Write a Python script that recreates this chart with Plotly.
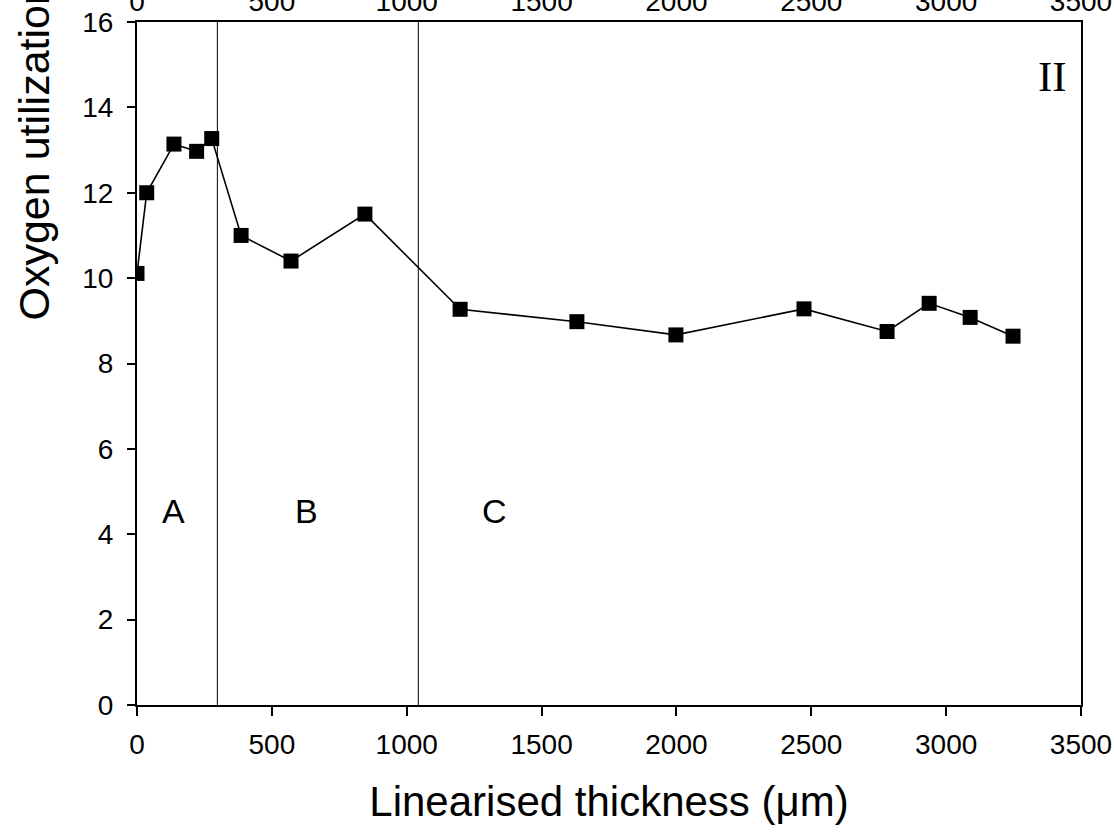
import plotly.graph_objects as go

thickness = [0, 36, 137, 221, 277, 386, 571, 845, 1198, 1631, 1998, 2473, 2781, 2937, 3089, 3248]
oxygen = [10.11, 12.0, 13.14, 12.97, 13.27, 11.0, 10.40, 11.50, 9.27, 8.98, 8.67, 9.28, 8.75, 9.41, 9.08, 8.64]
boundaries = [298, 1043]
zone_labels = ["A", "B", "C"]
zone_x = [137, 630, 1325]
zone_y = 4.55
x_ticks = [0, 500, 1000, 1500, 2000, 2500, 3000, 3500]
y_ticks = [0, 2, 4, 6, 8, 10, 12, 14, 16]

W, H = 1114, 837
L, R, T, B = 137, 33, 22, 132

fig = go.Figure()
fig.add_trace(go.Scatter(
    x=thickness, y=oxygen, mode="lines+markers",
    line=dict(color="black", width=1.6),
    marker=dict(symbol="square", size=15, color="black"),
    showlegend=False, hoverinfo="skip"))
fig.add_trace(go.Scatter(x=[], y=[], xaxis="x2", showlegend=False))

for bx in boundaries:
    fig.add_shape(type="line", x0=bx, x1=bx, y0=0, y1=16, xref="x", yref="y",
                  line=dict(color="black", width=1))

for lab, zx in zip(zone_labels, zone_x):
    fig.add_annotation(x=zx, y=zone_y, text=lab, showarrow=False,
                       font=dict(family="Arial, Liberation Sans", size=34, color="black"))

fig.add_annotation(x=3395, y=14.72, text="II", showarrow=False,
                   font=dict(family="Liberation Serif, Times New Roman", size=43, color="black"))

fig.add_annotation(xref="paper", yref="paper", x=(33 - L) / (W - L - R), y=(H - B - 323) / (H - T - B),
                   xanchor="center", yanchor="bottom", textangle=-90,
                   text="Oxygen utilization", showarrow=False,
                   font=dict(family="Arial, Liberation Sans", size=43, color="black"))

axis_font = dict(family="Arial, Liberation Sans", size=28, color="black")
fig.update_layout(
    width=W, height=H,
    margin=dict(l=L, r=R, t=T, b=B, autoexpand=False),
    plot_bgcolor="white", paper_bgcolor="white",
    xaxis=dict(range=[0, 3500], tickvals=x_ticks, ticks="outside", ticklen=9, tickwidth=1.5,
               tickcolor="black", showline=True, linecolor="black", linewidth=2, mirror=True,
               showgrid=False, zeroline=False, tickfont=axis_font, automargin=False,
               ticklabelstandoff=4,
               title=dict(text="Linearised thickness (μm)", standoff=28,
                          font=dict(family="Arial, Liberation Sans", size=42, color="black"))),
    xaxis2=dict(range=[0, 3500], tickvals=x_ticks, overlaying="x", side="top", ticks="",
                showline=False, showgrid=False, zeroline=False, tickfont=axis_font,
                automargin=False, ticklabelstandoff=4),
    yaxis=dict(range=[0, 16], tickvals=y_ticks, ticks="outside", ticklen=8, tickwidth=1.5,
               tickcolor="black", showline=True, linecolor="black", linewidth=2, mirror=True,
               showgrid=False, zeroline=False, tickfont=axis_font, automargin=False,
               ticklabelstandoff=8),
)

fig.write_html("out.html")
